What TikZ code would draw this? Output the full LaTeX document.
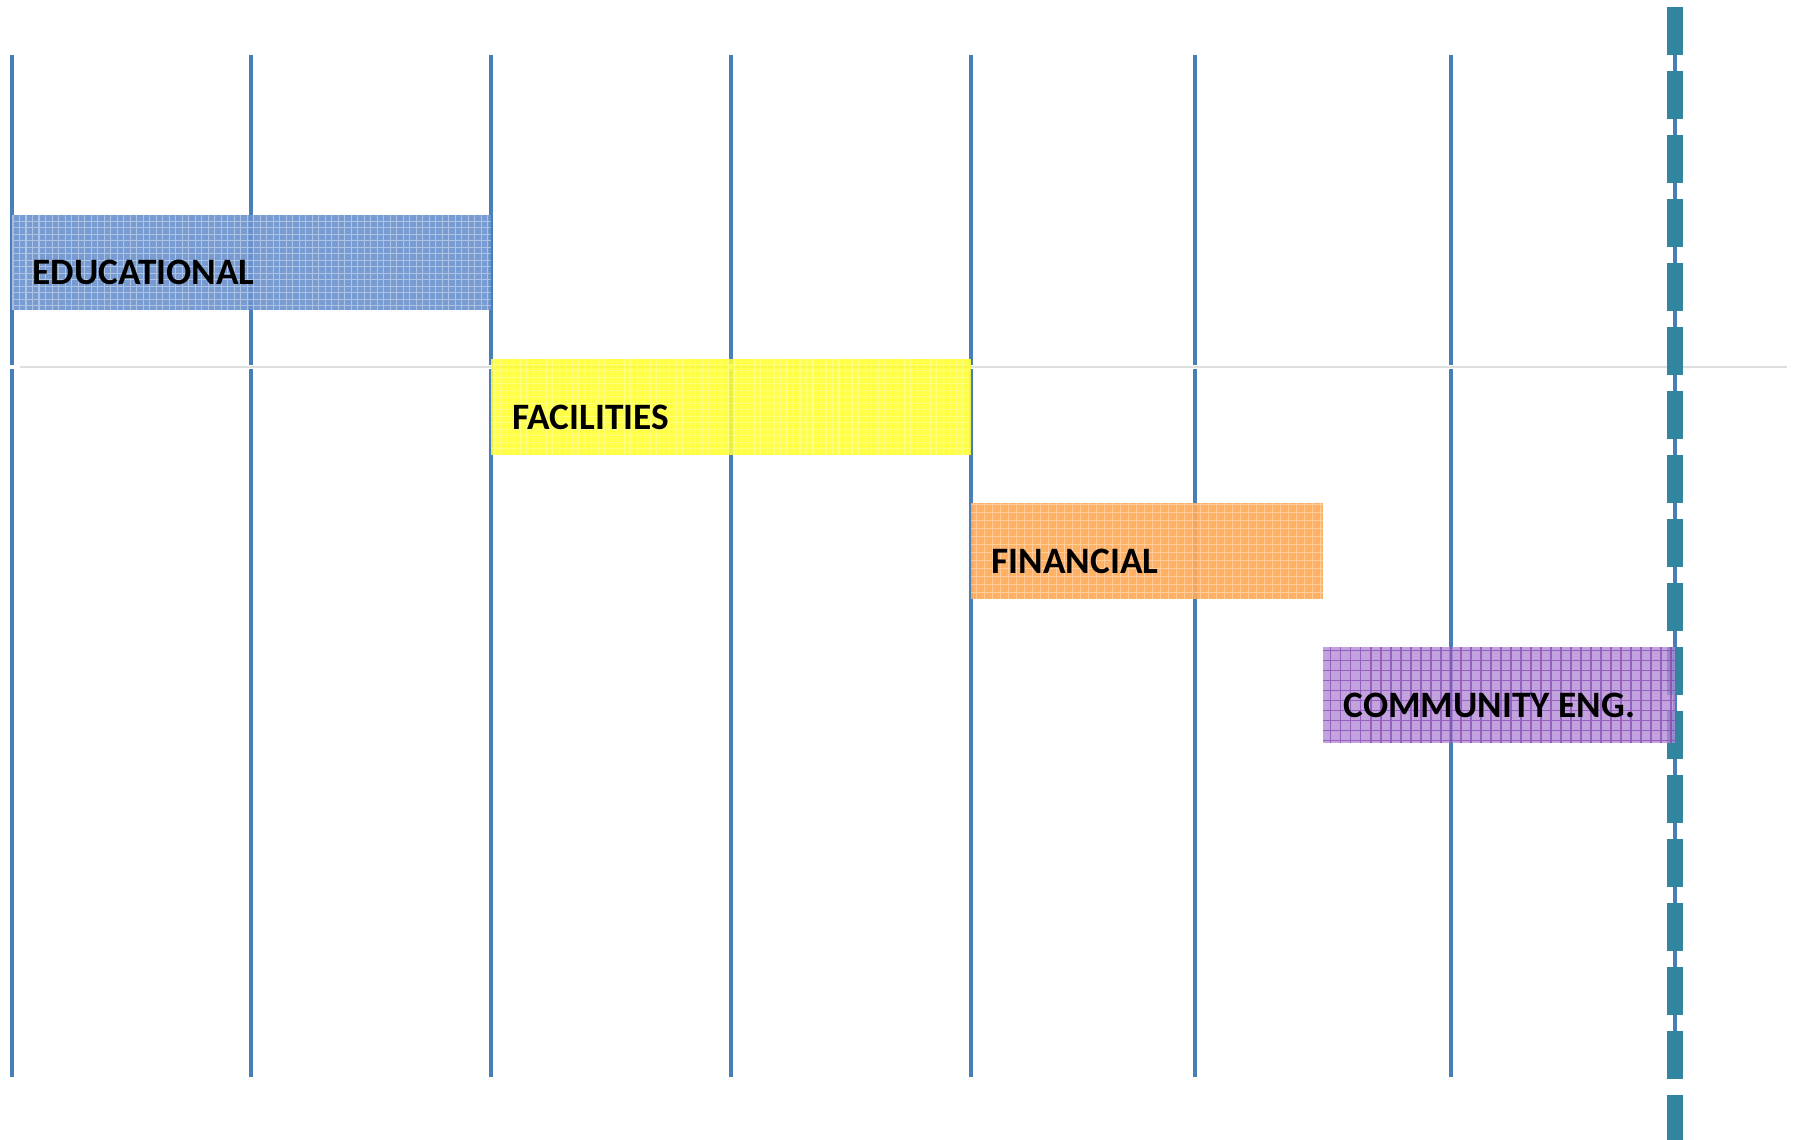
\documentclass[tikz,border=0pt]{standalone}
\usepackage{fontspec}
\setmainfont{Carlito}
\definecolor{ligne}{RGB}{74,126,187}
\definecolor{sarcelle}{RGB}{49,133,158}
\definecolor{bleubarre}{RGB}{108,148,206}
\definecolor{jaune}{RGB}{255,255,45}
\definecolor{orange}{RGB}{255,170,88}
\definecolor{violet}{RGB}{180,140,212}
\definecolor{violetfonce}{RGB}{120,55,175}
\tikzset{
  etiquette/.style={font=\bfseries\fontsize{10.6}{12}\selectfont, inner sep=0pt, anchor=base west},
  trame/.style={line width=0.3pt, white, opacity=0.4}
}
\begin{document}
\begin{tikzpicture}[x=0.01cm, y=-0.01cm, line width=0.95pt]
\useasboundingbox (0,0) rectangle (1796,1140);

% Lignes verticales
\foreach \x in {12,251,491,731,971,1195,1451}
  \draw[ligne] (\x,55) -- (\x,1077);

% Ligne grise
\draw[white, line width=1pt] (0,367) -- (1787,367);
\draw[black!13, line width=0.4pt] (20,367) -- (1787,367);

% Axe en tirets
\draw[ligne] (1675,55) -- (1675,1077);
\foreach \k in {0,...,17}
  \fill[sarcelle] (1667,{7+64*\k}) rectangle (1683,{55+64*\k});

% Barre bleue
\fill[bleubarre, fill opacity=0.92] (12,215) rectangle (491,310);
\begin{scope}
  \clip (12,215) rectangle (491,310);
  \draw[trame, step=0.065cm] (12,215) grid (491,310);
\end{scope}

% Barre jaune
\fill[jaune, fill opacity=0.88] (491,359) rectangle (971,455);
\begin{scope}
  \clip (491,359) rectangle (971,455);
  \draw[trame, opacity=0.3, step=0.065cm] (491,359) grid (971,455);
\end{scope}

% Barre orange
\fill[orange, fill opacity=0.92] (971,503) rectangle (1323,599);
\begin{scope}
  \clip (971,503) rectangle (1323,599);
  \draw[trame, opacity=0.35, step=0.08cm] (971,503) grid (1323,599);
\end{scope}

% Barre violette
\fill[violet, fill opacity=0.8] (1323,647) rectangle (1675,743);
\begin{scope}
  \clip (1323,647) rectangle (1675,743);
  \draw[violetfonce, line width=0.35pt, opacity=0.6, step=0.1cm] (1323,647) grid (1675,743);
\end{scope}

% Textes
\node[etiquette] (educ) at (31,285) {EDUCATIONAL};
\node[etiquette] (equip) at (511,430) {FACILITIES};
\node[etiquette] (finance) at (990,574) {FINANCIAL};
\node[etiquette] (commu) at (1342,718) {COMMUNITY ENG.};

\end{tikzpicture}
\end{document}
